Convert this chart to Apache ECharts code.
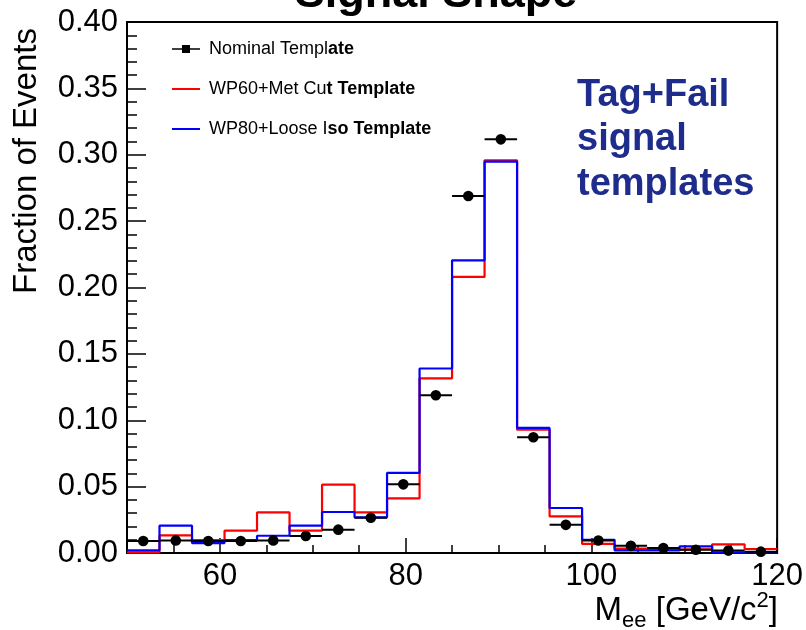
<!DOCTYPE html>
<html>
<head>
<meta charset="utf-8">
<script src="https://cdn.jsdelivr.net/npm/echarts@6/dist/echarts.min.js"></script>
<style>
  html, body { margin: 0; padding: 0; background: #fff; }
  #chart { width: 806px; height: 630px; }
</style>
</head>
<body>
<div id="chart"></div>
<script>
// Dielectron invariant-mass signal templates (Tag+Fail), 20 bins of 3.5 GeV from 50 to 120
const binEdges = [50, 53.5, 57, 60.5, 64, 67.5, 71, 74.5, 78, 81.5, 85, 88.5, 92, 95.5, 99, 102.5, 106, 109.5, 113, 116.5, 120];
const binCenters = [51.75, 55.25, 58.75, 62.25, 65.75, 69.25, 72.75, 76.25, 79.75, 83.25, 86.75, 90.25, 93.75, 97.25, 100.75, 104.25, 107.75, 111.25, 114.75, 118.25];

const nominalTemplate = [0.0090, 0.0095, 0.0090, 0.0090, 0.0095, 0.0128, 0.0176, 0.0266, 0.0517, 0.1188,
                         0.2689, 0.3116, 0.0872, 0.0212, 0.0094, 0.0054, 0.0037, 0.0025, 0.0018, 0.0010];
const wp60MetTemplate = [0.0005, 0.0133, 0.0098, 0.0168, 0.0306, 0.0168, 0.0515, 0.0306, 0.0412, 0.1316,
                         0.2080, 0.2958, 0.0929, 0.0276, 0.0068, 0.0033, 0.0025, 0.0030, 0.0065, 0.0030];
const wp80IsoTemplate = [0.0020, 0.0206, 0.0075, 0.0098, 0.0130, 0.0206, 0.0309, 0.0269, 0.0603, 0.1390,
                         0.2205, 0.2948, 0.0942, 0.0339, 0.0100, 0.0020, 0.0020, 0.0050, 0.0005, 0.0005];

const seriesNames = ['Nominal Template', 'WP60+Met Cut Template', 'WP80+Loose Iso Template'];
// legend text is drawn in two weights: plain head, heavier tail
const legendHead = ['Nominal Templ', 'WP60+Met Cu', 'WP80+Loose I'];
const legendTail = ['ate', 't Template', 'so Template'];

const xTickLabels = [60, 80, 100, 120];
const yTickLabels = [0.00, 0.05, 0.10, 0.15, 0.20, 0.25, 0.30, 0.35, 0.40];

const FONT = '"Liberation Sans", Arial, Helvetica, sans-serif';

// histogram outline: left edge of each bin, closed at the last edge
function stepData(values) {
  const pts = values.map((v, i) => [binEdges[i], v]);
  pts.push([binEdges[binEdges.length - 1], values[values.length - 1]]);
  return pts;
}

const pointData = nominalTemplate.map((v, i) => [binCenters[i], v, binEdges[i], binEdges[i + 1]]);

const chart = echarts.init(document.getElementById('chart'), null, { renderer: 'canvas' });

const option = {
  animation: false,
  backgroundColor: '#fff',
  grid: {
    left: 127, right: 27, top: 22, bottom: 77,
    show: true, borderColor: '#000', borderWidth: 2, backgroundColor: 'transparent'
  },
  xAxis: [
    {
      type: 'value', min: 50, max: 120, interval: 10, position: 'bottom',
      axisLine: { show: true, lineStyle: { color: '#000', width: 2 } },
      axisTick: { show: true, inside: true, length: 15, customValues: xTickLabels, lineStyle: { color: '#000', width: 1.5 } },
      axisLabel: { show: true, customValues: xTickLabels, margin: 8, color: '#000', fontSize: 31, fontFamily: FONT },
      splitLine: { show: false }
    },
    {
      // minor ticks every 5 GeV
      type: 'value', min: 50, max: 120, interval: 5, position: 'bottom',
      axisLine: { show: false },
      axisTick: { show: true, inside: true, length: 8, lineStyle: { color: '#000', width: 1.5 } },
      axisLabel: { show: false },
      splitLine: { show: false }
    }
  ],
  yAxis: {
    type: 'value', min: yTickLabels[0], max: yTickLabels[yTickLabels.length - 1], interval: 0.05,
    axisLine: { show: true, lineStyle: { color: '#000', width: 2 } },
    axisTick: { show: true, inside: true, length: 19, lineStyle: { color: '#000', width: 1.5 } },
    minorTick: { show: true, splitNumber: 5, length: 10, lineStyle: { color: '#000', width: 1.5 } },
    axisLabel: {
      margin: 9, color: '#000', fontSize: 31, fontFamily: FONT,
      formatter: v => v.toFixed(2)
    },
    splitLine: { show: false }
  },
  legend: {
    selectedMode: false,
    orient: 'vertical',
    left: 172, top: 39, padding: 0,
    itemWidth: 28, itemHeight: 10, itemGap: 20,
    itemStyle: { borderWidth: 0 },
    data: [
      { name: seriesNames[0], icon: 'path://M0,4.2H28V5.8H0Z M10,1H18V9H10Z' },
      { name: seriesNames[1], icon: 'path://M0,0H28V2H0Z' },
      { name: seriesNames[2], icon: 'path://M0,0H28V2H0Z' }
    ],
    formatter: name => {
      const i = seriesNames.indexOf(name);
      return '{n|' + legendHead[i] + '}{b|' + legendTail[i] + '}';
    },
    textStyle: {
      color: '#000', fontSize: 18, fontFamily: FONT, lineHeight: 20, padding: [0, 0, 0, 4],
      rich: {
        n: { color: '#000', fontSize: 18, fontFamily: FONT, lineHeight: 20 },
        b: { color: '#000', fontSize: 18, fontFamily: FONT, fontWeight: 'bold', lineHeight: 20 }
      }
    }
  },
  series: [
    {
      name: seriesNames[1], type: 'line', step: 'end', xAxisIndex: 0,
      data: stepData(wp60MetTemplate), symbol: 'none', color: '#ff0000',
      lineStyle: { color: '#ff0000', width: 2.2 }, z: 2
    },
    {
      name: seriesNames[2], type: 'line', step: 'end', xAxisIndex: 0,
      data: stepData(wp80IsoTemplate), symbol: 'none', color: '#0000ff',
      lineStyle: { color: '#0000ff', width: 2.2 }, z: 3
    },
    {
      name: seriesNames[0], type: 'custom', xAxisIndex: 0, color: '#000', z: 4,
      data: pointData,
      encode: { x: 0, y: 1 },
      renderItem: (params, api) => {
        const y = api.value(1);
        const c = api.coord([api.value(0), y]);
        const lo = api.coord([api.value(2), y]);
        const hi = api.coord([api.value(3), y]);
        return {
          type: 'group',
          children: [
            { type: 'line', shape: { x1: lo[0], y1: lo[1], x2: hi[0], y2: hi[1] }, style: { stroke: '#000', lineWidth: 2 } },
            { type: 'circle', shape: { cx: c[0], cy: c[1], r: 5.3 }, style: { fill: '#000' } }
          ]
        };
      }
    }
  ],
  graphic: [
    {
      type: 'text', x: 436, y: -5, z: 10,
      style: { text: 'Signal Shape', fill: '#000', font: 'bold 45px ' + FONT, align: 'center', verticalAlign: 'middle' }
    },
    {
      type: 'text', x: 27, y: 161, rotation: Math.PI / 2, z: 10,
      style: { text: 'Fraction of Events', fill: '#000', font: '33px ' + FONT, align: 'center', verticalAlign: 'middle' }
    },
    {
      type: 'text', x: 778, y: 590, z: 10,
      style: {
        text: '{m|M}{s|ee}{m| [GeV/c}{p|2}{m|]}',
        align: 'right', verticalAlign: 'top', fill: '#000',
        rich: {
          m: { fontSize: 33, fontFamily: FONT, lineHeight: 42, fill: '#000' },
          s: { fontSize: 22, fontFamily: FONT, lineHeight: 22, verticalAlign: 'bottom', fill: '#000' },
          p: { fontSize: 22, fontFamily: FONT, lineHeight: 22, verticalAlign: 'top', fill: '#000' }
        }
      }
    },
    {
      type: 'text', x: 577, y: 73, z: 10,
      style: {
        text: 'Tag+Fail\nsignal\ntemplates',
        fill: '#1e2d8c', font: 'bold 38px ' + FONT, lineHeight: 44.5,
        align: 'left', verticalAlign: 'top'
      }
    }
  ]
};

chart.setOption(option);
</script>
</body>
</html>
